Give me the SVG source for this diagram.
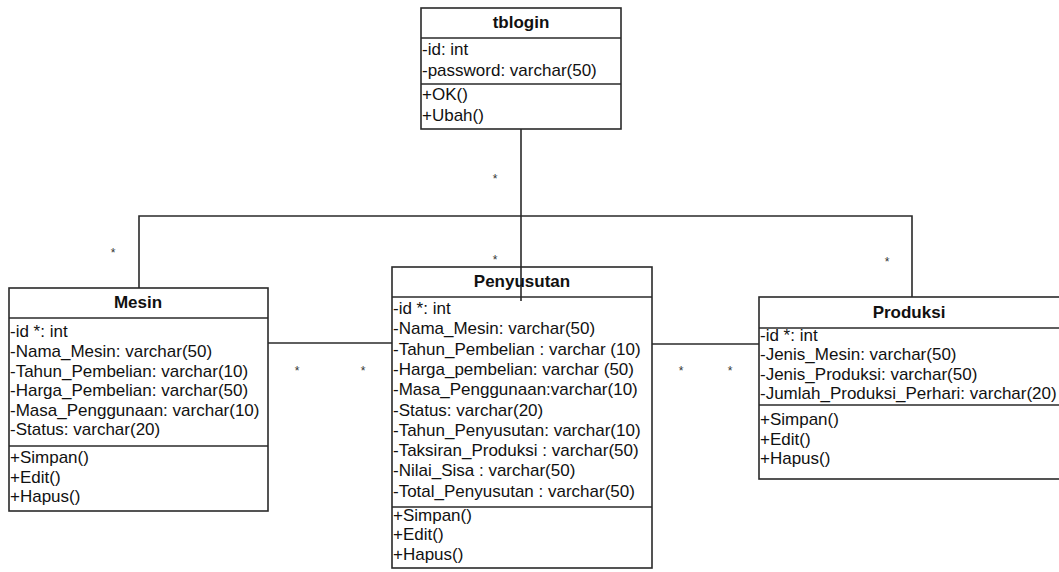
<svg xmlns="http://www.w3.org/2000/svg" width="1059" height="572" viewBox="0 0 1059 572">
<style>
.box{fill:#fff;stroke:#2a2a2a;stroke-width:1.6}
.div{stroke:#2a2a2a;stroke-width:1.6}
.t{font-family:"Liberation Sans",Arial,sans-serif;font-size:17px;fill:#111}
.h{font-family:"Liberation Sans",Arial,sans-serif;font-size:17px;font-weight:bold;fill:#111;text-anchor:middle}
.c{stroke:#2a2a2a;stroke-width:1.6;fill:none}
.m{font-family:"Liberation Sans",Arial,sans-serif;font-size:12px;fill:#333;text-anchor:middle}
</style>
<rect width="1059" height="572" fill="#fff"/>
<g id="connectors">
<path class="c" d="M521 129 V301"/>
<path class="c" d="M139 288 V216 H912 V297"/>
<path class="c" d="M268 343 H392"/>
<path class="c" d="M652 344 H759"/>
<text class="m" x="495" y="183">*</text>
<text class="m" x="113" y="257">*</text>
<text class="m" x="495" y="264">*</text>
<text class="m" x="887" y="266">*</text>
<text class="m" x="297" y="375">*</text>
<text class="m" x="363" y="375">*</text>
<text class="m" x="681" y="375">*</text>
<text class="m" x="730" y="375">*</text>
</g>
<g id="tblogin">
<rect class="box" x="421" y="8" width="200" height="121"/>
<line class="div" x1="421" y1="38" x2="621" y2="38"/>
<line class="div" x1="421" y1="84" x2="621" y2="84"/>
<text class="h" x="521" y="28">tblogin</text>
<text class="t" x="422" y="55">-id: int</text>
<text class="t" x="422" y="76">-password: varchar(50)</text>
<text class="t" x="422" y="100">+OK()</text>
<text class="t" x="422" y="121">+Ubah()</text>
</g>
<g id="mesin">
<rect class="box" x="9" y="288" width="259" height="223"/>
<line class="div" x1="9" y1="318" x2="268" y2="318"/>
<line class="div" x1="9" y1="446" x2="268" y2="446"/>
<text class="h" x="138" y="308">Mesin</text>
<text class="t" x="10" y="337">-id *: int</text>
<text class="t" x="10" y="357">-Nama_Mesin: varchar(50)</text>
<text class="t" x="10" y="377">-Tahun_Pembelian: varchar(10)</text>
<text class="t" x="10" y="396">-Harga_Pembelian: varchar(50)</text>
<text class="t" x="10" y="416">-Masa_Penggunaan: varchar(10)</text>
<text class="t" x="10" y="435">-Status: varchar(20)</text>
<text class="t" x="10" y="463">+Simpan()</text>
<text class="t" x="10" y="483">+Edit()</text>
<text class="t" x="10" y="502">+Hapus()</text>
</g>
<g id="penyusutan">
<rect class="box" x="392" y="267" width="260" height="301"/>
<line class="div" x1="392" y1="297" x2="652" y2="297"/>
<line class="div" x1="392" y1="507" x2="652" y2="507"/>
<line class="c" x1="521" y1="267" x2="521" y2="301"/>
<text class="h" x="522" y="287">Penyusutan</text>
<text class="t" x="393" y="314">-id *: int</text>
<text class="t" x="393" y="334">-Nama_Mesin: varchar(50)</text>
<text class="t" x="393" y="355">-Tahun_Pembelian : varchar (10)</text>
<text class="t" x="393" y="375">-Harga_pembelian: varchar (50)</text>
<text class="t" x="393" y="395">-Masa_Penggunaan:varchar(10)</text>
<text class="t" x="393" y="416">-Status: varchar(20)</text>
<text class="t" x="393" y="436">-Tahun_Penyusutan: varchar(10)</text>
<text class="t" x="393" y="456">-Taksiran_Produksi : varchar(50)</text>
<text class="t" x="393" y="476">-Nilai_Sisa : varchar(50)</text>
<text class="t" x="393" y="497">-Total_Penyusutan : varchar(50)</text>
<text class="t" x="393" y="521">+Simpan()</text>
<text class="t" x="393" y="540">+Edit()</text>
<text class="t" x="393" y="560">+Hapus()</text>
</g>
<g id="produksi">
<rect class="box" x="759" y="297" width="303" height="182"/>
<line class="div" x1="759" y1="328" x2="1062" y2="328"/>
<line class="div" x1="759" y1="405" x2="1062" y2="405"/>
<text class="h" x="909" y="318">Produksi</text>
<text class="t" x="760" y="341">-id *: int</text>
<text class="t" x="760" y="360">-Jenis_Mesin: varchar(50)</text>
<text class="t" x="760" y="380">-Jenis_Produksi: varchar(50)</text>
<text class="t" x="760" y="399">-Jumlah_Produksi_Perhari: varchar(20)</text>
<text class="t" x="760" y="425">+Simpan()</text>
<text class="t" x="760" y="445">+Edit()</text>
<text class="t" x="760" y="464">+Hapus()</text>
</g>
</svg>
